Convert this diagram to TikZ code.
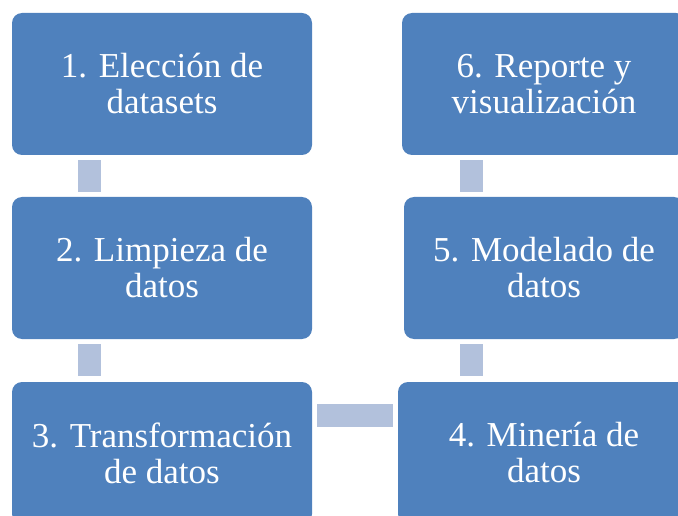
\documentclass[tikz,border=0pt]{standalone}
\usepackage{fontspec}
\setmainfont{Liberation Serif}
\definecolor{boxblue}{HTML}{4F81BD}
\definecolor{linkblue}{HTML}{B2C1DC}
\begin{document}
\begin{tikzpicture}[x=1pt,y=-1pt,
  stepbox/.style={draw=none,fill=boxblue,rounded corners=10pt,text=white,
    align=center,inner sep=0pt,
    font=\fontsize{35}{36}\selectfont},
  link/.style={draw=none,fill=linkblue,inner sep=0pt}]
\useasboundingbox (0,0) rectangle (678,516);
\clip (0,0) rectangle (678,516);
% boxes
\node[stepbox,minimum width=300pt,minimum height=142pt] (b1) at (162,84) {1. Elección de\\datasets};
\node[stepbox,minimum width=300pt,minimum height=142pt] (b2) at (162,268) {2. Limpieza de\\datos};
\node[stepbox,minimum width=300pt,minimum height=142pt] (b3) at (162,453) {3. Transformación\\de datos};
\node[stepbox,minimum width=292pt,minimum height=142pt] (b4) at (544,453) {4. Minería de\\datos};
\node[stepbox,minimum width=280pt,minimum height=142pt] (b5) at (544,268) {5. Modelado de\\datos};
\node[stepbox,minimum width=284pt,minimum height=142pt] (b6) at (544,84) {6. Reporte y\\visualización};
% connectors
\node[link,minimum width=23pt,minimum height=32pt] (c12) at (89.5,176) {};
\node[link,minimum width=23pt,minimum height=32pt] (c23) at (89.5,360) {};
\node[link,minimum width=76pt,minimum height=23pt] (c34) at (355,415.5) {};
\node[link,minimum width=23pt,minimum height=32pt] (c45) at (471.5,360) {};
\node[link,minimum width=23pt,minimum height=32pt] (c56) at (471.5,176) {};
\end{tikzpicture}
\end{document}
